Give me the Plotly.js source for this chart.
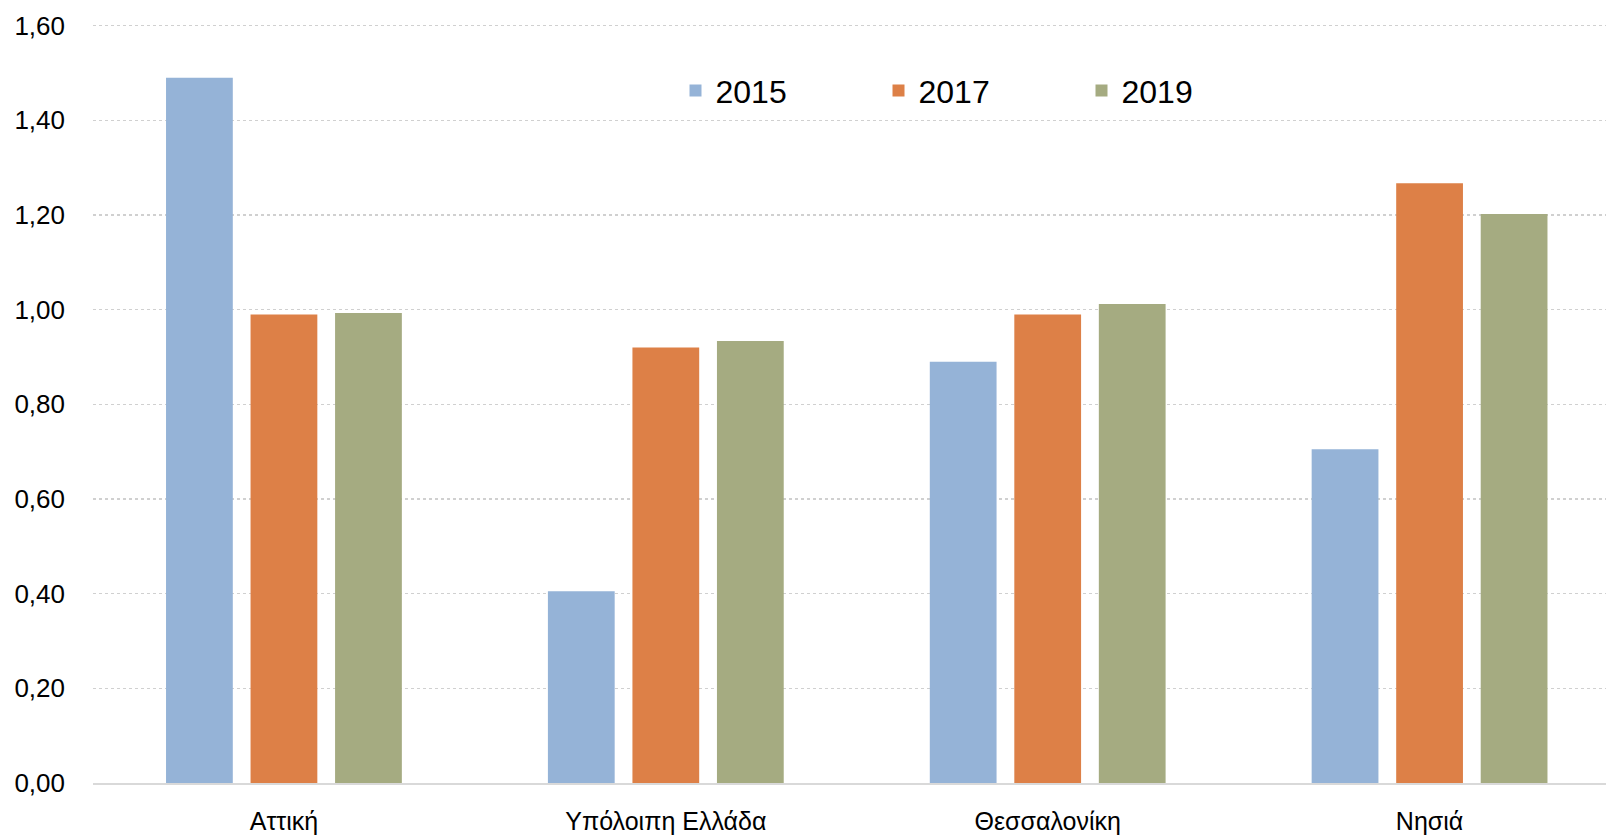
<!DOCTYPE html>
<html>
<head>
<meta charset="utf-8">
<script src="https://cdn.plot.ly/plotly-3.0.1.min.js"></script>
<style>html,body{margin:0;padding:0;background:#fff;}#chart{width:1606px;height:835px;}</style>
</head>
<body>
<div id="chart"></div>
<script>
const categories = ["Αττική", "Υπόλοιπη Ελλάδα", "Θεσσαλονίκη", "Νησιά"];
const seriesNames = ["2015", "2017", "2019"];
const values2015 = [1.49, 0.405, 0.89, 0.705];
const values2017 = [0.99, 0.92, 0.99, 1.267];
const values2019 = [0.993, 0.934, 1.012, 1.202];
const colors = ["#95B3D7", "#DD8047", "#A5AB81"];

const seriesValues = [values2015, values2017, values2019];
const traces = seriesNames.map((name, i) => ({
  type: "bar",
  name: name,
  x: categories,
  y: seriesValues[i],
  marker: { color: colors[i] },
  hoverinfo: "x+y+name"
}));

const font = "Liberation Sans, Arial, sans-serif";
const layout = {
  width: 1606,
  height: 835,
  margin: { l: 93, r: 0, t: 21, b: 52 },
  paper_bgcolor: "#ffffff",
  plot_bgcolor: "#ffffff",
  separators: ",.",
  barmode: "group",
  bargap: 0.336,
  bargroupgap: 0.21,
  showlegend: true,
  legend: {
    orientation: "h",
    x: 0.385,
    xanchor: "left",
    y: 0.9085,
    yanchor: "middle",
    entrywidth: 158,
    entrywidthmode: "pixels",
    font: { family: font, size: 32, color: "#000000" },
    bgcolor: "rgba(0,0,0,0)",
    traceorder: "normal"
  },
  xaxis: {
    type: "category",
    range: [-0.5, 3.462],
    showgrid: false,
    showline: true,
    linecolor: "#d9d9d9",
    linewidth: 1.5,
    ticks: "",
    ticklabelstandoff: 15,
    tickfont: { family: font, size: 25, color: "#000000" },
    zeroline: false,
    fixedrange: true
  },
  yaxis: {
    range: [0, 1.61],
    tickvals: [0, 0.2, 0.4, 0.6, 0.8, 1.0, 1.2, 1.4, 1.6],
    tickformat: ".2f",
    showgrid: true,
    gridcolor: "#d0d0d0",
    gridwidth: 1.5,
    griddash: "dot",
    zeroline: false,
    showline: false,
    ticks: "",
    ticklabelstandoff: 27,
    tickfont: { family: font, size: 26, color: "#000000" },
    fixedrange: true
  }
};

Plotly.newPlot("chart", traces, layout, { displayModeBar: false, staticPlot: true });
</script>
</body>
</html>
